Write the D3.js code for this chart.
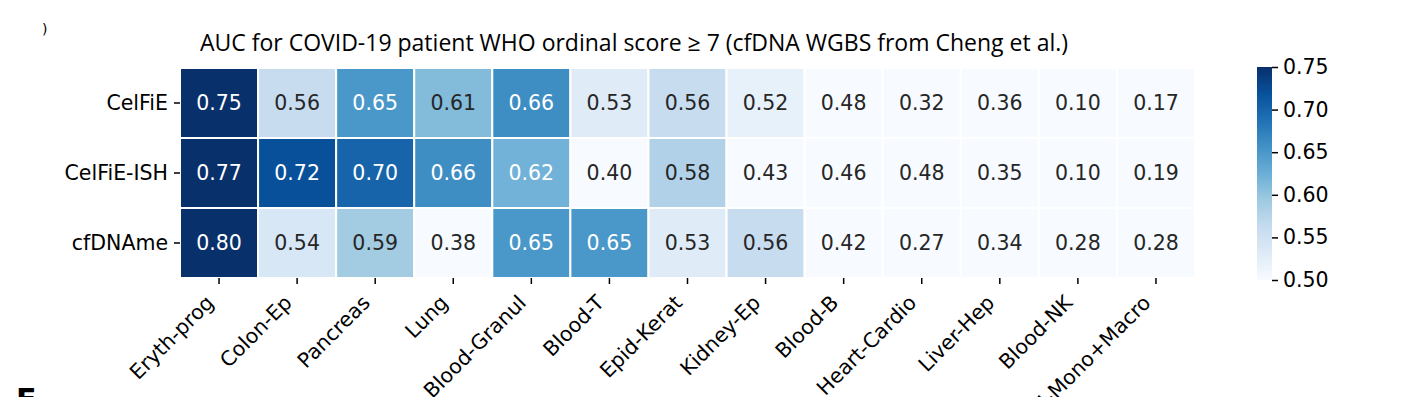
<!DOCTYPE html>
<html>
<head>
<meta charset="utf-8">
<script src="https://cdn.jsdelivr.net/npm/d3@7"></script>
<style>
  body { margin: 0; background: #fff; }
  svg { display: block; }
</style>
</head>
<body>
<svg></svg>
<script>
// tissues along the x axis
var tissues = ["Eryth-prog", "Colon-Ep", "Pancreas", "Lung", "Blood-Granul", "Blood-T",
  "Epid-Kerat", "Kidney-Ep", "Blood-B", "Heart-Cardio", "Liver-Hep", "Blood-NK", "Blood-Mono+Macro"];
var methods = ["CelFiE", "CelFiE-ISH", "cfDNAme"];

// AUC per method
var aucCelfie    = [0.75, 0.56, 0.65, 0.61, 0.66, 0.53, 0.56, 0.52, 0.48, 0.32, 0.36, 0.10, 0.17];
var aucCelfieIsh = [0.77, 0.72, 0.70, 0.66, 0.62, 0.40, 0.58, 0.43, 0.46, 0.48, 0.35, 0.10, 0.19];
var aucCfdname   = [0.80, 0.54, 0.59, 0.38, 0.65, 0.65, 0.53, 0.56, 0.42, 0.27, 0.34, 0.28, 0.28];

var colorbarTicks = [0.50, 0.55, 0.60, 0.65, 0.70, 0.75];

var svgWidth = 1408;
var svgHeight = 397;

var svg = d3.select("svg")
    .attr("width", svgWidth)
    .attr("height", svgHeight);

var font = "'DejaVu Sans', sans-serif";
var fontSize = 20.5;

// heatmap area
var hmLeft = 180, hmRight = 1195, hmTop = 68, hmBottom = 278;

var x = d3.scaleBand().domain(tissues).range([hmLeft, hmRight]);
var y = d3.scaleBand().domain(methods).range([hmTop, hmBottom]);

// matplotlib "Blues" control points, clipped to vmin/vmax
var blues = ["#f7fbff", "#deebf7", "#c6dbef", "#9ecae1", "#6baed6", "#4292c6", "#2171b5", "#08519c", "#08306b"];
var color = d3.scaleLinear()
    .domain(d3.range(blues.length).map(function(i) { return 0.5 + 0.25 * i / (blues.length - 1); }))
    .range(blues)
    .clamp(true);

var rows = [aucCelfie, aucCelfieIsh, aucCfdname];
var cells = [];
rows.forEach(function(vals, r) {
  vals.forEach(function(v, c) {
    cells.push({ method: methods[r], tissue: tissues[c], value: v });
  });
});

// seaborn picks the annotation colour from luminance
function luminance(col) {
  var rgb = d3.rgb(col);
  var ch = [rgb.r, rgb.g, rgb.b].map(function(u) {
    u = u / 255;
    return u <= 0.03928 ? u / 12.92 : Math.pow((u + 0.055) / 1.055, 2.4);
  });
  return 0.2126 * ch[0] + 0.7152 * ch[1] + 0.0722 * ch[2];
}

svg.selectAll("rect.cell")
    .data(cells)
    .enter()
    .append("rect")
    .attr("class", "cell")
    .attr("x", function(d) { return x(d.tissue); })
    .attr("y", function(d) { return y(d.method); })
    .attr("width", x.bandwidth())
    .attr("height", y.bandwidth())
    .attr("fill", function(d) { return color(d.value); })
    .attr("stroke", "#fff")
    .attr("stroke-width", 2);

svg.selectAll("text.annot")
    .data(cells)
    .enter()
    .append("text")
    .attr("class", "annot")
    .attr("x", function(d) { return x(d.tissue) + x.bandwidth() / 2; })
    .attr("y", function(d) { return y(d.method) + y.bandwidth() / 2; })
    .attr("dy", "0.36em")
    .attr("text-anchor", "middle")
    .attr("font-family", font)
    .attr("font-size", fontSize)
    .attr("fill", function(d) { return luminance(color(d.value)) > 0.408 ? "#262626" : "#fff"; })
    .text(function(d) { return d.value.toFixed(2); });

// y axis
var yAxis = svg.append("g")
    .attr("transform", "translate(" + hmLeft + ",0)")
    .call(d3.axisLeft(y).tickSize(6).tickPadding(6));
yAxis.select(".domain").remove();
yAxis.selectAll(".tick line").attr("stroke", "#000").attr("stroke-width", 1.5);
yAxis.selectAll(".tick text")
    .attr("font-family", font)
    .attr("font-size", fontSize)
    .attr("fill", "#000");

// x axis
var xAxis = svg.append("g")
    .attr("transform", "translate(0," + hmBottom + ")")
    .call(d3.axisBottom(x).tickSize(6).tickPadding(0));
xAxis.select(".domain").remove();
xAxis.selectAll(".tick line").attr("stroke", "#000").attr("stroke-width", 1.5);
xAxis.selectAll(".tick text")
    .attr("font-family", font)
    .attr("font-size", fontSize)
    .attr("fill", "#000")
    .attr("text-anchor", "end")
    .attr("dy", null)
    .attr("y", 0)
    .attr("transform", "translate(-4,26) rotate(-45)");

// title
svg.append("text")
    .attr("x", 634)
    .attr("y", 51)
    .attr("text-anchor", "middle")
    .attr("font-family", "'Open Sans', sans-serif")
    .attr("font-size", 23)
    .attr("fill", "#000")
    .text("AUC for COVID-19 patient WHO ordinal score \u2265 7 (cfDNA WGBS from Cheng et al.)");

// colorbar
var cbX = 1257, cbW = 15, cbTop = 67, cbBottom = 280;
var cbScale = d3.scaleLinear().domain([0.5, 0.75]).range([cbBottom, cbTop]);

var defs = svg.append("defs");
var grad = defs.append("linearGradient")
    .attr("id", "cbgrad")
    .attr("x1", 0).attr("y1", 1).attr("x2", 0).attr("y2", 0);
grad.selectAll("stop")
    .data(blues)
    .enter()
    .append("stop")
    .attr("offset", function(d, i) { return i / (blues.length - 1); })
    .attr("stop-color", function(d) { return d; });

svg.append("rect")
    .attr("x", cbX)
    .attr("y", cbTop)
    .attr("width", cbW)
    .attr("height", cbBottom - cbTop)
    .attr("fill", "url(#cbgrad)");

var cbAxis = svg.append("g")
    .attr("transform", "translate(" + (cbX + cbW) + ",0)")
    .call(d3.axisRight(cbScale).tickValues(colorbarTicks).tickFormat(d3.format(".2f")).tickSize(6).tickPadding(5));
cbAxis.select(".domain").remove();
cbAxis.selectAll(".tick line").attr("stroke", "#000").attr("stroke-width", 1.5);
cbAxis.selectAll(".tick text")
    .attr("font-family", font)
    .attr("font-size", fontSize)
    .attr("fill", "#000");

// fragments of neighbouring panels at the crop edges
svg.append("text")
    .attr("x", 42).attr("y", 34)
    .attr("font-family", font).attr("font-size", 14)
    .text(")");
svg.append("text")
    .attr("x", 16).attr("y", 410)
    .attr("font-family", font).attr("font-size", 30).attr("font-weight", "bold")
    .text("E");
</script>
</body>
</html>
